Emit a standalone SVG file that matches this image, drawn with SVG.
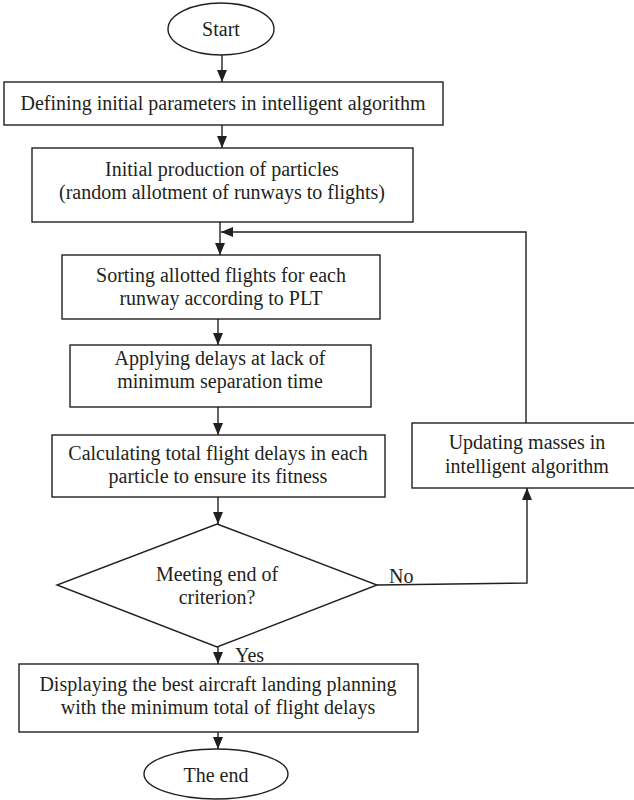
<svg xmlns="http://www.w3.org/2000/svg" width="634" height="800" viewBox="0 0 634 800">
<style>
.shape{fill:#fff;stroke:#231f20;stroke-width:1.4}
.lbl{font-family:'Liberation Serif','Times New Roman',Times,serif;font-size:20px;fill:#231f20;text-anchor:middle}
.side{text-anchor:start}
.conn{fill:none;stroke:#231f20;stroke-width:1.4}
</style>
<defs>
<marker id="ahl" viewBox="0 0 12 10" refX="12" refY="5" markerWidth="12" markerHeight="10" markerUnits="userSpaceOnUse" orient="auto">
<path d="M0,0 L12,5 L0,10 z" fill="#231f20"/>
</marker>
</defs>
<rect width="634" height="800" fill="#fff"/>
<g id="connectors">
<path class="conn" d="M222,55 V82" marker-end="url(#ahl)"/>
<path class="conn" d="M222,125 V148" marker-end="url(#ahl)"/>
<path class="conn" d="M220,222 V255" marker-end="url(#ahl)"/>
<path class="conn" d="M526,423 V232 H221" marker-end="url(#ahl)"/>
<path class="conn" d="M218,319 V345" marker-end="url(#ahl)"/>
<path class="conn" d="M218,407 V435" marker-end="url(#ahl)"/>
<path class="conn" d="M218,497 V524" marker-end="url(#ahl)"/>
<path class="conn" d="M218,647 V664" marker-end="url(#ahl)"/>
<path class="conn" d="M377,585 L527,583 V488" marker-end="url(#ahl)"/>
<path class="conn" d="M218,732 V749" marker-end="url(#ahl)"/>
<text class="lbl side" x="389" y="583">No</text>
<text class="lbl side" x="235" y="662">Yes</text>
</g>
<g id="start">
<ellipse class="shape" cx="221" cy="29" rx="53" ry="26"/>
<text class="lbl" x="221" y="36">Start</text>
</g>
<g id="define">
<rect class="shape" x="4" y="82" width="439" height="43"/>
<text class="lbl" x="223" y="110">Defining initial parameters in intelligent algorithm</text>
</g>
<g id="init">
<rect class="shape" x="32" y="148" width="381" height="74"/>
<text class="lbl" x="222" y="176">Initial production of particles</text>
<text class="lbl" x="222" y="199">(random allotment of runways to flights)</text>
</g>
<g id="sort">
<rect class="shape" x="62" y="255" width="318" height="64"/>
<text class="lbl" x="221" y="282">Sorting allotted flights for each</text>
<text class="lbl" x="221" y="305">runway according to PLT</text>
</g>
<g id="apply">
<rect class="shape" x="70" y="345" width="301" height="62"/>
<text class="lbl" x="220" y="365">Applying delays at lack of</text>
<text class="lbl" x="220" y="388">minimum separation time</text>
</g>
<g id="calc">
<rect class="shape" x="52" y="435" width="333" height="62"/>
<text class="lbl" x="218" y="460">Calculating total flight delays in each</text>
<text class="lbl" x="218" y="483">particle to ensure its fitness</text>
</g>
<g id="decision">
<polygon class="shape" points="217,524 377,585 217,647 57,585"/>
<text class="lbl" x="217" y="581">Meeting end of</text>
<text class="lbl" x="217" y="604">criterion?</text>
</g>
<g id="update">
<rect class="shape" x="412" y="423" width="232" height="65"/>
<text class="lbl" x="527" y="449">Updating masses in</text>
<text class="lbl" x="527" y="473">intelligent algorithm</text>
</g>
<g id="display">
<rect class="shape" x="19" y="664" width="399" height="68"/>
<text class="lbl" x="218" y="691">Displaying the best aircraft landing planning</text>
<text class="lbl" x="218" y="714">with the minimum total of flight delays</text>
</g>
<g id="end">
<ellipse class="shape" cx="216" cy="774" rx="72" ry="25"/>
<text class="lbl" x="216" y="782">The end</text>
</g>
</svg>
